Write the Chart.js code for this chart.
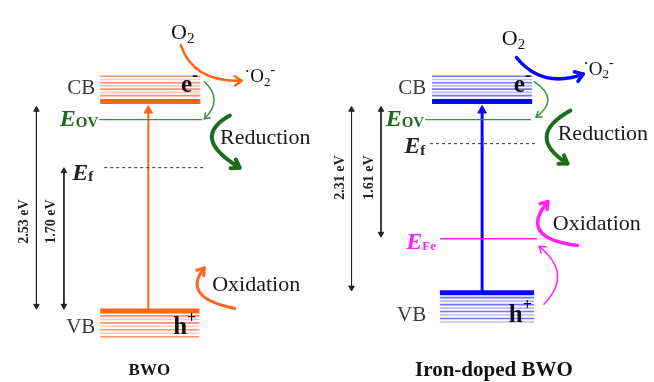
<!DOCTYPE html>
<html>
<head>
<meta charset="utf-8">
<script src="https://cdn.jsdelivr.net/npm/chart.js@4.4.0/dist/chart.umd.min.js"></script>
<style>
  html, body { margin: 0; padding: 0; background: #fff; }
  #chart { display: block; }
</style>
</head>
<body>
<canvas id="chart" width="654" height="382"></canvas>
<script>
"use strict";

// 1: data - energies in eV, measured from the conduction band edge
const panels = ["BWO", "Iron-doped BWO"];
const cbLevel = [0, 0];
const vbLevel = [-2.53, -2.31];
const ovLevel = [-0.22, -0.22];      // oxygen vacancy level E_OV
const fermiLevel = [-0.80, -0.51];   // E_f
const feLevel = [null, -1.66];       // Fe level (doped sample only)
const gapOuter = ["2.53 eV", "2.31 eV"];
const gapInner = ["1.70 eV", "1.61 eV"];

// colours for each panel
const bandColor = ["#ff6418", "#0808ff"];
const stripeStrong = ["rgba(255,110,60,0.75)", "rgba(70,70,255,0.75)"];
const stripePale = ["rgba(255,140,100,0.45)", "rgba(120,120,255,0.5)"];
const green = "#3f8f3f";
const darkGreen = "#1d6b1d";
const magenta = "#ff22ff";

// horizontal placement of each panel (the x axis simply runs 0..654)
const layout = [
  { cb: [96, 198], vb: [96, 197], lvl: [95, 200], ef: [100, 202], fe: null,
    excite: 145, outer: 31, inner: 59, gapY: -1.45, outerLbl: 19, innerLbl: 46,
    cbStripes: 7, vbStripes: 7, labelX: 91, vbLbl: 0.2, title: 146, titleSize: 17 },
  { cb: [434, 536], vb: [442, 538], lvl: [427, 535], ef: [432, 540], fe: [442, 541],
    excite: 485, outer: 352, inner: 382, gapY: -0.92, outerLbl: 341, innerLbl: 370,
    cbStripes: 7, vbStripes: 8, labelX: 428, vbLbl: 0.27, title: 497, titleSize: 21 }
];

const SERIF = '"Liberation Serif", "DejaVu Serif", serif';

// 2: helpers to build the datasets
function seg(x0, x1, y) {
  return [{ x: x0, y: y }, { x: x1, y: y }];
}

function lineSet(data, color, width, extra) {
  return Object.assign({
    data: data,
    borderColor: color,
    backgroundColor: color,
    borderWidth: width,
    pointRadius: 0,
    showLine: true,
    clip: false
  }, extra || {});
}

function buildDatasets() {
  let sets = [];
  panels.forEach((name, p) => {
    const L = layout[p];
    // stripes inside the conduction band and valence band
    for (let k = 0; k < L.cbStripes; k++) {
      const e = cbLevel[p] + 0.07 + k * 0.039;
      sets.push(lineSet(seg(L.cb[0], L.cb[1], e), k % 2 ? stripePale[p] : stripeStrong[p], 1.6));
    }
    for (let k = 0; k < L.vbStripes; k++) {
      const e = vbLevel[p] - 0.06 - k * 0.042;
      sets.push(lineSet(seg(L.vb[0], L.vb[1], e), k % 2 ? stripePale[p] : stripeStrong[p], 1.6));
    }
    // band edges
    sets.push(lineSet(seg(L.cb[0], L.cb[1], cbLevel[p]), bandColor[p], 5));
    sets.push(lineSet(seg(L.vb[0], L.vb[1], vbLevel[p]), bandColor[p], 5));
    // defect levels
    sets.push(lineSet(seg(L.lvl[0], L.lvl[1], ovLevel[p]), green, 1.3));
    sets.push(lineSet(seg(L.ef[0], L.ef[1], fermiLevel[p]), "#333", 1, { borderDash: [3, 3] }));
    if (feLevel[p] !== null) {
      sets.push(lineSet(seg(L.fe[0], L.fe[1], feLevel[p]), magenta, 1.5));
    }
    // excitation arrow VB -> CB
    sets.push(lineSet([{ x: L.excite, y: vbLevel[p] }, { x: L.excite, y: cbLevel[p] - 0.11 }],
      bandColor[p], p === 0 ? 2 : 3,
      { pointStyle: "triangle", pointRadius: [0, 5], pointBorderWidth: 1 }));
    // gap arrows
    const arrow = { pointStyle: "triangle", pointRadius: 3.2, pointRotation: [0, 180], pointBorderWidth: 1 };
    sets.push(lineSet([{ x: L.outer, y: cbLevel[p] - 0.1 }, { x: L.outer, y: vbLevel[p] + 0.06 }], "#222", 1, arrow));
    const innerTop = p === 0 ? fermiLevel[p] - 0.04 : cbLevel[p] - 0.1;
    const innerBot = p === 0 ? vbLevel[p] + 0.06 : feLevel[p] + 0.06;
    sets.push(lineSet([{ x: L.inner, y: innerTop }, { x: L.inner, y: innerBot }], "#222", 1, arrow));
  });
  return sets;
}

// 3: curved process arrows, in axis units [x, eV] : start, control, end
const processArrows = [
  { p: [[178, 0.68], [191, 0.23], [240, 0.25]], color: bandColor[0], w: 2.5, head: 8 },
  { p: [[520, 0.53], [546, 0.15], [588, 0.33]], color: bandColor[1], w: 3.5, head: 9 },
  { p: [[202, 0.24], [222, 0.02], [202, -0.21]], color: green, w: 1.5, head: 6 },
  { p: [[538, 0.24], [565, 0.03], [540, -0.19]], color: green, w: 1.5, head: 6 },
  { p: [[228, -0.17], [187, -0.44], [238, -0.80]], color: darkGreen, w: 4, head: 9 },
  { p: [[575, -0.11], [528, -0.42], [572, -0.75]], color: darkGreen, w: 4, head: 9 },
  { p: [[233, -2.50], [178, -2.37], [202, -2.01]], color: bandColor[0], w: 3, head: 8 },
  { p: [[582, -1.74], [521, -1.65], [552, -1.21]], color: magenta, w: 3.5, head: 8 },
  { p: [[548, -2.45], [578, -2.08], [543, -1.75]], color: magenta, w: 1.5, head: 7 }
];

function curvedArrow(ctx, p0, c, p1, color, width, head) {
  ctx.save();
  ctx.strokeStyle = color;
  ctx.lineWidth = width;
  ctx.lineCap = "round";
  ctx.lineJoin = "round";
  ctx.beginPath();
  ctx.moveTo(p0[0], p0[1]);
  ctx.quadraticCurveTo(c[0], c[1], p1[0], p1[1]);
  ctx.stroke();
  const a = Math.atan2(p1[1] - c[1], p1[0] - c[0]);
  ctx.beginPath();
  ctx.moveTo(p1[0] - head * Math.cos(a - 0.6), p1[1] - head * Math.sin(a - 0.6));
  ctx.lineTo(p1[0], p1[1]);
  ctx.lineTo(p1[0] - head * Math.cos(a + 0.6), p1[1] - head * Math.sin(a + 0.6));
  ctx.stroke();
  ctx.restore();
}

// text with sub/superscripts: parts = [{t, f, dy}]
function rich(ctx, parts, x, y, align, color) {
  ctx.save();
  ctx.fillStyle = color;
  ctx.textBaseline = "middle";
  ctx.textAlign = "left";
  let w = 0;
  for (const part of parts) {
    ctx.font = part.f;
    w += ctx.measureText(part.t).width;
  }
  let cx = align === "right" ? x - w : align === "center" ? x - w / 2 : x;
  for (const part of parts) {
    ctx.font = part.f;
    ctx.fillText(part.t, cx, y + (part.dy || 0));
    cx += ctx.measureText(part.t).width;
  }
  ctx.restore();
}

const annotate = {
  id: "annotate",
  afterDatasetsDraw(chart) {
    const ctx = chart.ctx;
    const X = v => chart.scales.x.getPixelForValue(v);
    const Y = v => chart.scales.y.getPixelForValue(v);
    const big = "21px " + SERIF;
    const eFont = "italic bold 24px " + SERIF;
    const subFont = "bold 15px " + SERIF;

    processArrows.forEach(a => {
      const pts = a.p.map(q => [X(q[0]), Y(q[1])]);
      curvedArrow(ctx, pts[0], pts[1], pts[2], a.color, a.w, a.head);
    });

    panels.forEach((name, p) => {
      const L = layout[p];
      rich(ctx, [{ t: "CB", f: big }], X(L.labelX), Y(cbLevel[p] + 0.16), "right", "#3a3a3a");
      rich(ctx, [{ t: "VB", f: big }], X(L.labelX), Y(vbLevel[p] - L.vbLbl), "right", "#3a3a3a");
      rich(ctx, [{ t: "E", f: eFont }, { t: "OV", f: subFont, dy: 4 }],
        X(L.lvl[0] - 1), Y(ovLevel[p]), "right", darkGreen);
      rich(ctx, [{ t: "E", f: eFont }, { t: "f", f: subFont, dy: 4 }],
        X(p === 0 ? 89 : 427), Y(fermiLevel[p] - (p === 0 ? 0.07 : 0.04)), "right", "#222");
      if (feLevel[p] !== null) {
        rich(ctx, [{ t: "E", f: eFont }, { t: "Fe", f: "bold 13px " + SERIF, dy: 4 }],
          X(438), Y(feLevel[p] - 0.05), "right", magenta);
      }
      // carriers
      const cx = p === 0 ? 187 : 526;
      rich(ctx, [{ t: "e", f: "bold 25px " + SERIF }, { t: "-", f: "bold 18px " + SERIF, dy: -9 }],
        X(cx), Y(cbLevel[p] + 0.19), "center", "#111");
      rich(ctx, [{ t: "h", f: "bold 25px " + SERIF }, { t: "+", f: "bold 16px " + SERIF, dy: -9 }],
        X(p === 0 ? 182 : 524), Y(vbLevel[p] - L.vbLbl), "center", "#111");
      // oxygen
      rich(ctx, [{ t: "O", f: "22px " + SERIF }, { t: "2", f: "15px " + SERIF, dy: 6 }],
        X(p === 0 ? 180 : 517), Y(p === 0 ? 0.82 : 0.75), "center", "#111");
      rich(ctx, [{ t: "\u00b7", f: "17px " + SERIF, dy: -5 }, { t: "O", f: "19px " + SERIF },
                 { t: "2", f: "13px " + SERIF, dy: 5 }, { t: "-", f: "14px " + SERIF, dy: -7 }],
        X(p === 0 ? 243 : 588), Y(p === 0 ? 0.29 : 0.38), "left", "#111");
      // processes
      rich(ctx, [{ t: "Reduction", f: "22px " + SERIF }],
        X(p === 0 ? 218 : 562), Y(p === 0 ? -0.45 : -0.40), "left", "#1a1a1a");
      rich(ctx, [{ t: "Oxidation", f: "22px " + SERIF }],
        X(p === 0 ? 210 : 557), Y(p === 0 ? -2.22 : -1.48), "left", "#1a1a1a");
      // gap values, rotated
      [[gapOuter[p], L.outerLbl], [gapInner[p], L.innerLbl]].forEach(g => {
        ctx.save();
        ctx.translate(X(g[1]), Y(L.gapY));
        ctx.rotate(-Math.PI / 2);
        ctx.font = "bold 14px " + SERIF;
        ctx.fillStyle = "#222";
        ctx.textAlign = "center";
        ctx.textBaseline = "middle";
        ctx.fillText(g[0], 0, 0);
        ctx.restore();
      });
      // panel title
      ctx.save();
      ctx.font = "bold " + L.titleSize + "px " + SERIF;
      ctx.fillStyle = "#111";
      ctx.textAlign = "center";
      ctx.textBaseline = "middle";
      ctx.fillText(name, X(L.title), chart.height - 11);
      ctx.restore();
    });
  }
};

// 4: create the chart
const chart = new Chart(document.getElementById("chart"), {
  type: "scatter",
  data: { datasets: buildDatasets() },
  options: {
    responsive: false,
    animation: false,
    layout: { padding: 0 },
    plugins: { legend: { display: false }, tooltip: { enabled: false } },
    scales: {
      x: { type: "linear", min: 0, max: 654, display: false },
      y: { type: "linear", min: -3.316, max: 1.152, display: false }
    }
  },
  plugins: [annotate]
});
</script>
</body>
</html>
